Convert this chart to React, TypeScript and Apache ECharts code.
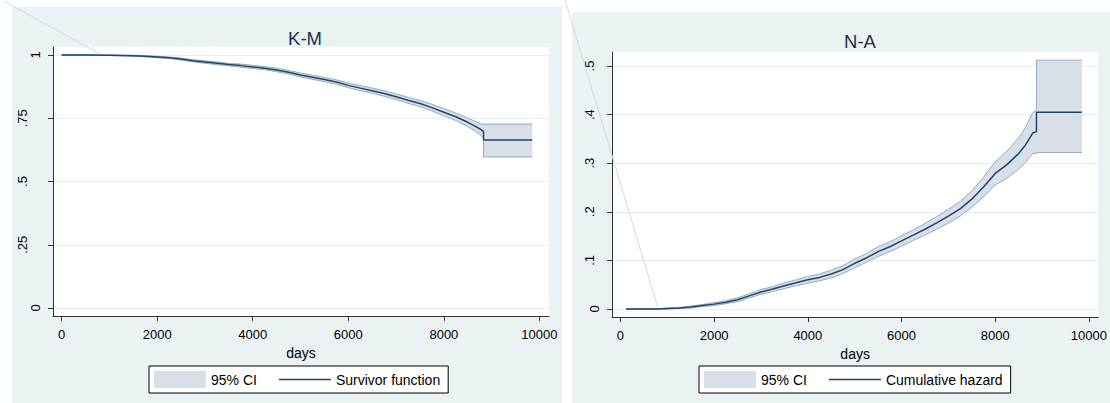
import React, { useEffect, useRef } from 'react';
import * as echarts from 'echarts';

// Kaplan-Meier survivor estimate with 95% confidence band
const kmDays = [0, 500, 1000, 1250, 1500, 1750, 2000, 2250, 2500, 2750, 3000, 3250, 3500, 3750, 4000, 4250, 4500, 4750, 5000, 5250, 5500, 5750, 6000, 6250, 6500, 6750, 7000, 7250, 7500, 7750, 8000, 8250, 8500, 8650, 8780, 8830, 8830, 9850];
const kmSurvivor = [1, 1, 0.999, 0.998, 0.997, 0.995, 0.992, 0.989, 0.984, 0.977, 0.972, 0.967, 0.962, 0.958, 0.953, 0.948, 0.941, 0.932, 0.921, 0.912, 0.903, 0.893, 0.88, 0.869, 0.859, 0.848, 0.835, 0.821, 0.808, 0.792, 0.774, 0.756, 0.734, 0.719, 0.705, 0.697, 0.664, 0.664];
const kmLower = [1, 1, 0.998, 0.997, 0.995, 0.993, 0.989, 0.986, 0.98, 0.973, 0.967, 0.962, 0.957, 0.952, 0.947, 0.942, 0.934, 0.925, 0.913, 0.904, 0.895, 0.884, 0.871, 0.859, 0.849, 0.837, 0.824, 0.809, 0.796, 0.779, 0.76, 0.741, 0.717, 0.7, 0.682, 0.67, 0.597, 0.597];
const kmUpper = [1, 1, 1, 0.999, 0.999, 0.997, 0.995, 0.992, 0.988, 0.981, 0.977, 0.972, 0.967, 0.964, 0.959, 0.954, 0.948, 0.939, 0.929, 0.92, 0.911, 0.902, 0.889, 0.879, 0.869, 0.859, 0.846, 0.833, 0.82, 0.805, 0.788, 0.771, 0.751, 0.738, 0.728, 0.724, 0.727, 0.727];

// Nelson-Aalen cumulative hazard with 95% confidence band
const naDays = [120, 500, 800, 1000, 1250, 1500, 1750, 2000, 2250, 2500, 2750, 3000, 3250, 3500, 3750, 4000, 4250, 4500, 4750, 5000, 5250, 5500, 5750, 6000, 6250, 6500, 6750, 7000, 7250, 7500, 7750, 8000, 8250, 8500, 8650, 8800, 8880, 8880, 9850];
const naHazard = [0, 0, 0, 0.001, 0.002, 0.004, 0.007, 0.01, 0.014, 0.019, 0.027, 0.035, 0.041, 0.048, 0.054, 0.06, 0.065, 0.072, 0.081, 0.094, 0.105, 0.118, 0.128, 0.14, 0.152, 0.164, 0.177, 0.191, 0.206, 0.226, 0.251, 0.279, 0.297, 0.32, 0.338, 0.362, 0.365, 0.405, 0.405];
const naLower = [0, 0, 0, 0, 0.001, 0.002, 0.005, 0.007, 0.011, 0.015, 0.023, 0.03, 0.036, 0.042, 0.048, 0.053, 0.058, 0.064, 0.073, 0.085, 0.096, 0.108, 0.118, 0.129, 0.141, 0.152, 0.164, 0.177, 0.191, 0.209, 0.231, 0.255, 0.269, 0.288, 0.302, 0.32, 0.32, 0.322, 0.322];
const naUpper = [0, 0, 0, 0.002, 0.003, 0.006, 0.009, 0.013, 0.017, 0.023, 0.031, 0.04, 0.046, 0.054, 0.06, 0.067, 0.072, 0.08, 0.089, 0.103, 0.114, 0.128, 0.138, 0.151, 0.163, 0.176, 0.19, 0.205, 0.221, 0.243, 0.271, 0.303, 0.325, 0.352, 0.374, 0.404, 0.41, 0.512, 0.512];

// Axis ticks
const dayTicks = [0, 2000, 4000, 6000, 8000, 10000];
const kmTicks = [0, 0.25, 0.5, 0.75, 1];
const naTicks = [0, 0.1, 0.2, 0.3, 0.4, 0.5];

const FONT = '"Liberation Sans", Arial, Helvetica, sans-serif';
const NAVY = '#1a476f';
const BAND_FILL = '#d9dfe7';
const BAND_EDGE = '#98a9bd';
const AXIS_COLOR = '#333333';
const GRID_COLOR = '#e6eef0';
const PANEL = '#eaf2f3';
const TITLE_COLOR = '#1f2f4e';
const LINE_ICON = 'path://M0,0H52V1.6H0Z';

const pairs = (xs: number[], ys: number[]) => xs.map((x, i) => [x, ys[i]]);

// Stata-style tick text: ".25" rather than "0.25"
const yText = (v: number) => (v === 0 ? '0' : v === 1 ? '1' : String(v).replace(/^0/, ''));
const yLabel = (v: number) => {
  const s = yText(v);
  return `{p${s.length}|${s}}`;
};

const xAxisFor = (gridIndex: number) => ({
  type: 'value',
  gridIndex,
  min: -180,
  max: 10200,
  name: 'days',
  nameLocation: 'middle',
  nameGap: 26,
  nameTextStyle: { fontFamily: FONT, fontSize: 14, color: '#000' },
  axisLine: { show: true, onZero: false, lineStyle: { color: AXIS_COLOR, width: 1 } },
  axisTick: { show: true, length: 5, customValues: dayTicks, lineStyle: { color: AXIS_COLOR } },
  axisLabel: {
    customValues: dayTicks,
    margin: 12,
    formatter: (v: number) => String(v),
    fontFamily: FONT,
    fontSize: 13,
    color: '#000',
  },
  splitLine: { show: false },
});

const yAxisFor = (gridIndex: number, min: number, max: number, ticks: number[], pad2: number, pad3: number) => ({
  type: 'value',
  gridIndex,
  min,
  max,
  axisLine: { show: true, onZero: false, lineStyle: { color: AXIS_COLOR, width: 1 } },
  axisTick: { show: true, length: 5, customValues: ticks, lineStyle: { color: AXIS_COLOR } },
  axisLabel: {
    customValues: ticks,
    rotate: 90,
    margin: 11,
    formatter: yLabel,
    rich: {
      p1: { fontFamily: FONT, fontSize: 13, color: '#000', padding: [0, 0, 0, 0] },
      p2: { fontFamily: FONT, fontSize: 13, color: '#000', padding: [0, 0, pad2, 0] },
      p3: { fontFamily: FONT, fontSize: 13, color: '#000', padding: [0, 0, pad3, 0] },
    },
  },
  splitLine: { show: true, lineStyle: { color: GRID_COLOR, width: 1 } },
});

// Shaded confidence band (one polygon) plus its two outline lines
const bandSeries = (idx: number, xs: number[], lo: number[], hi: number[], key: string) => [
  {
    name: '95% CI',
    type: 'custom',
    xAxisIndex: idx,
    yAxisIndex: idx,
    data: xs.map((x, i) => [x, lo[i], hi[i]]),
    encode: { x: 0, y: [1, 2] },
    itemStyle: { color: BAND_FILL },
    silent: true,
    z: 1,
    renderItem: (params: any, api: any) => {
      if (params.dataIndex !== 0) return undefined;
      const top = xs.map((x, i) => api.coord([x, hi[i]]));
      const bottom = xs.map((x, i) => api.coord([x, lo[i]])).reverse();
      return {
        type: 'polygon',
        shape: { points: top.concat(bottom) },
        style: { fill: BAND_FILL, stroke: 'none' },
      };
    },
  },
  {
    name: key + 'Lower',
    type: 'line',
    xAxisIndex: idx,
    yAxisIndex: idx,
    data: pairs(xs, lo),
    symbol: 'none',
    lineStyle: { color: BAND_EDGE, width: 1 },
    itemStyle: { color: BAND_EDGE },
    z: 3,
    silent: true,
  },
  {
    name: key + 'Upper',
    type: 'line',
    xAxisIndex: idx,
    yAxisIndex: idx,
    data: pairs(xs, hi),
    symbol: 'none',
    lineStyle: { color: BAND_EDGE, width: 1 },
    itemStyle: { color: BAND_EDGE },
    z: 3,
    silent: true,
  },
];

const legendFor = (left: number, mainName: string, gap: number) => ({
  left,
  top: 366,
  orient: 'horizontal',
  backgroundColor: '#ffffff',
  borderColor: '#000000',
  borderWidth: 1,
  borderRadius: 0,
  padding: [5, 8, 5, 5],
  itemWidth: 52,
  itemHeight: 17,
  itemGap: gap,
  symbolKeepAspect: true,
  selectedMode: false,
  textStyle: { fontFamily: FONT, fontSize: 14, color: '#000' },
  data: [
    { name: '95% CI', icon: 'rect', itemStyle: { color: BAND_FILL, borderWidth: 0 } },
    { name: mainName, icon: LINE_ICON, itemStyle: { color: NAVY, borderWidth: 0 } },
  ],
});

export default function App() {
  const ref = useRef<HTMLDivElement>(null);

  useEffect(() => {
    if (!ref.current) return;
    const chart = echarts.init(ref.current, undefined, { renderer: 'svg' });
    const option: any = {
      animation: false,
      backgroundColor: '#ffffff',
      graphic: [
        { type: 'rect', z: -10, silent: true, shape: { x: 12, y: 7, width: 550, height: 410 }, style: { fill: PANEL } },
        { type: 'rect', z: -10, silent: true, shape: { x: 572, y: 12, width: 560, height: 410 }, style: { fill: PANEL } },
        { type: 'line', z: 50, silent: true, shape: { x1: 4, y1: 1, x2: 100, y2: 54 }, style: { stroke: '#d2d9e1', lineWidth: 1 } },
        { type: 'line', z: 50, silent: true, shape: { x1: 565, y1: 0, x2: 658, y2: 308 }, style: { stroke: '#d2d9e1', lineWidth: 1 } },
      ],
      title: [
        { text: 'K-M', left: 300, top: 24, textAlign: 'center', textStyle: { fontFamily: FONT, fontSize: 18.5, fontWeight: 'normal', color: TITLE_COLOR } },
        { text: 'N-A', left: 855, top: 27, textAlign: 'center', textStyle: { fontFamily: FONT, fontSize: 18.5, fontWeight: 'normal', color: TITLE_COLOR } },
      ],
      legend: [legendFor(149, 'Survivor function', 22), legendFor(699, 'Cumulative hazard', 22)],
      grid: [
        { left: 53, top: 47, width: 496, height: 269, show: true, backgroundColor: '#ffffff', borderWidth: 0 },
        { left: 612, top: 52, width: 487, height: 265, show: true, backgroundColor: '#ffffff', borderWidth: 0 },
      ],
      xAxis: [xAxisFor(0), xAxisFor(1)],
      yAxis: [
        yAxisFor(0, -0.0316, 1.0316, kmTicks, 13, 13),
        yAxisFor(1, -0.0165, 0.5288, naTicks, 5, 10),
      ],
      series: [
        ...bandSeries(0, kmDays, kmLower, kmUpper, 'km'),
        {
          name: 'Survivor function',
          type: 'line',
          xAxisIndex: 0,
          yAxisIndex: 0,
          data: pairs(kmDays, kmSurvivor),
          symbol: 'none',
          lineStyle: { color: NAVY, width: 1.5 },
          itemStyle: { color: NAVY },
          z: 4,
        },
        ...bandSeries(1, naDays, naLower, naUpper, 'na'),
        {
          name: 'Cumulative hazard',
          type: 'line',
          xAxisIndex: 1,
          yAxisIndex: 1,
          data: pairs(naDays, naHazard),
          symbol: 'none',
          lineStyle: { color: NAVY, width: 1.5 },
          itemStyle: { color: NAVY },
          z: 4,
        },
      ],
    };
    chart.setOption(option);
    return () => chart.dispose();
  }, []);

  return (
    <div
      ref={ref}
      style={{ position: 'absolute', left: 0, top: 0, width: 1110, height: 403 }}
    />
  );
}
